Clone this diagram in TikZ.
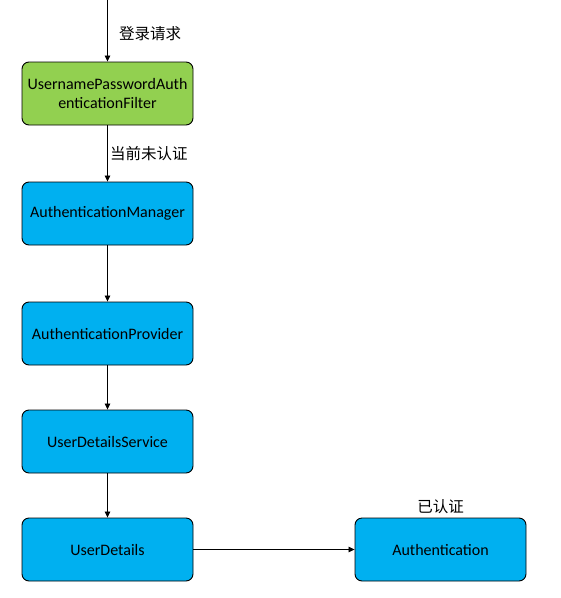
\documentclass[tikz,border=0pt]{standalone}
\usepackage{fontspec}
\setmainfont{Carlito}
\newfontfamily\cjk{Noto Sans CJK SC}
\usetikzlibrary{arrows.meta}

\definecolor{filtergreen}{HTML}{92D050}
\definecolor{boxblue}{HTML}{00B0F0}

\tikzset{
  flowbox/.style={draw=black, line width=0.9pt, rounded corners=7pt, fill=boxblue,
    minimum width=171pt, minimum height=63pt, inner sep=2pt, align=center,
    font=\fontsize{16}{19}\selectfont},
  flowarrow/.style={-{Triangle[length=6pt,width=5.5pt]}, line width=0.8pt},
  steplabel/.style={font=\cjk\fontsize{15.5}{17}\selectfont}
}

\begin{document}
\begin{tikzpicture}[x=1pt, y=-1pt]
			\useasboundingbox (0,0) rectangle (561,598);
			
			% Draw the chain of boxes
			\node[flowbox, fill=filtergreen] (filter) at (107.5,93.5) {UsernamePasswordAuth\\enticationFilter};
			\node[flowbox] (manager) at (107.5,213.5) {AuthenticationManager};
			\node[flowbox] (provider) at (107.5,333.5) {AuthenticationProvider};
			\node[flowbox] (service) at (107.5,441.5) {UserDetailsService};
			\node[flowbox] (details) at (107.5,549.5) {UserDetails};
			\node[flowbox] (auth) at (440.5,549.5) {Authentication};
			
			% Incoming request
			\coordinate (start) at (107.5,0);
			
			% Connect boxes with arrows
			\draw[flowarrow] (start) -- (filter.north) node[pos=0.55, right=8pt, steplabel] {登录请求};
			\draw[flowarrow] (filter) -- (manager) node[midway, right=-1pt, steplabel] {当前未认证};
			\draw[flowarrow] (manager) -- (provider);
			\draw[flowarrow] (provider) -- (service);
			\draw[flowarrow] (service) -- (details);
			\draw[flowarrow] (details) -- (auth);
			
			% Label the result
			\node[steplabel, above=0pt] (done) at (auth.north) {已认证};
		\end{tikzpicture}
\end{document}
